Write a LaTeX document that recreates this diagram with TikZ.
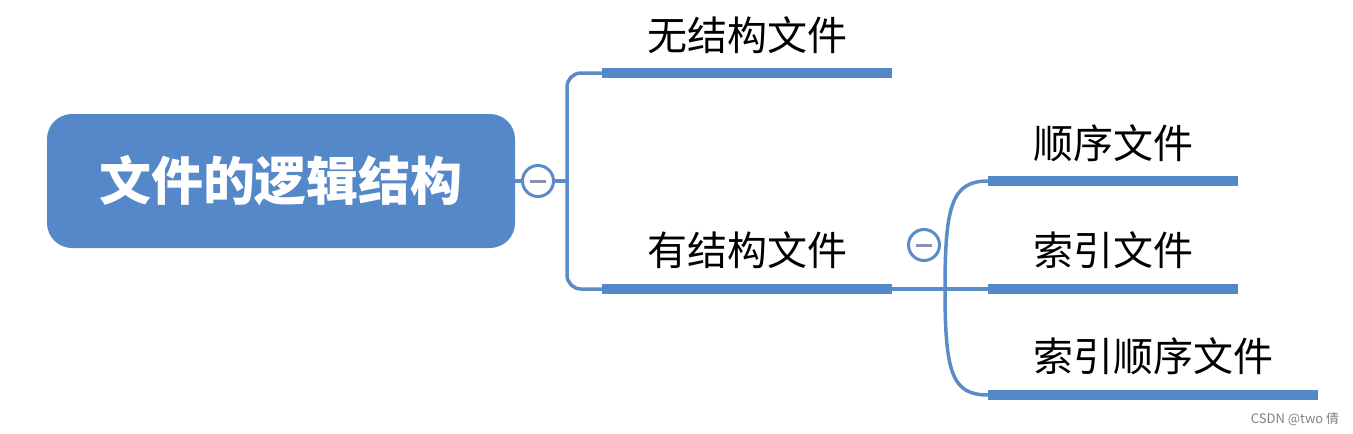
\documentclass[tikz,border=0pt]{standalone}
\usepackage{fontspec}
\setmainfont{Noto Sans CJK SC}
\newfontfamily\cjk{Noto Sans CJK SC}
\definecolor{mblue}{HTML}{5588C8}
\definecolor{mline}{HTML}{5B8CC8}
\definecolor{minus}{HTML}{8A90B0}
\begin{document}
\begin{tikzpicture}[x=1pt,y=-1pt,
  conn/.style={draw=mline,line width=3.5pt},
  bar/.style={draw=mblue,line width=10pt},
  lbl/.style={font=\cjk\fontsize{40}{42}\selectfont,text=black,inner sep=0pt},
  toggle/.style={circle,draw=mline,line width=3pt,fill=white,minimum size=31pt,inner sep=0pt}]
\useasboundingbox (0,0) rectangle (1353,434);
% root
\node[fill=mblue,rounded corners=25pt,minimum width=468pt,minimum height=134pt,inner sep=0pt,
  font=\cjk\bfseries\fontsize{52}{54}\selectfont,text=white] (root) at (281,181) {文件的逻辑结构};
% first-level bars
\coordinate (b1s) at (602,73); \coordinate (b1e) at (892,73);
\coordinate (b2s) at (602,289); \coordinate (b2e) at (892,289);
\draw[conn,rounded corners=14pt] (b1s) -- (567,73) -- (567,289) -- (b2s);
\draw[conn] (root.east) -- (567,181);
\draw[bar] (b1s) -- (b1e);
\draw[bar] (b2s) -- (b2e);
\node[toggle] (t1) at (538,181) {};
\draw[minus,line width=3pt] (530,181) -- (546,181);
\node[lbl] (n1) at (747,35) {无结构文件};
\node[lbl] (n2) at (747,250) {有结构文件};
% second level
\coordinate (j) at (945,289);
\coordinate (c1s) at (988,181); \coordinate (c1e) at (1238,181);
\coordinate (c2s) at (988,289); \coordinate (c2e) at (1238,289);
\coordinate (c3s) at (988,395); \coordinate (c3e) at (1318,395);
\draw[conn] (b2e) -- (c2s);
\draw[conn] (j) .. controls (945,205) and (952,181) .. (c1s);
\draw[conn] (j) .. controls (945,373) and (952,395) .. (c3s);
\draw[bar] (c1s) -- (c1e);
\draw[bar] (c2s) -- (c2e);
\draw[bar] (c3s) -- (c3e);
\node[toggle] (t2) at (924,245) {};
\draw[minus,line width=3pt] (916,245) -- (932,245);
\node[lbl] (m1) at (1113,143) {顺序文件};
\node[lbl] (m2) at (1113,250) {索引文件};
\node[lbl] (m3) at (1153,356) {索引顺序文件};
\node[font=\cjk\fontsize{13}{14}\selectfont,text=gray,inner sep=0pt] (wm) at (1295,419) {CSDN @two 倩};
\end{tikzpicture}
\end{document}
